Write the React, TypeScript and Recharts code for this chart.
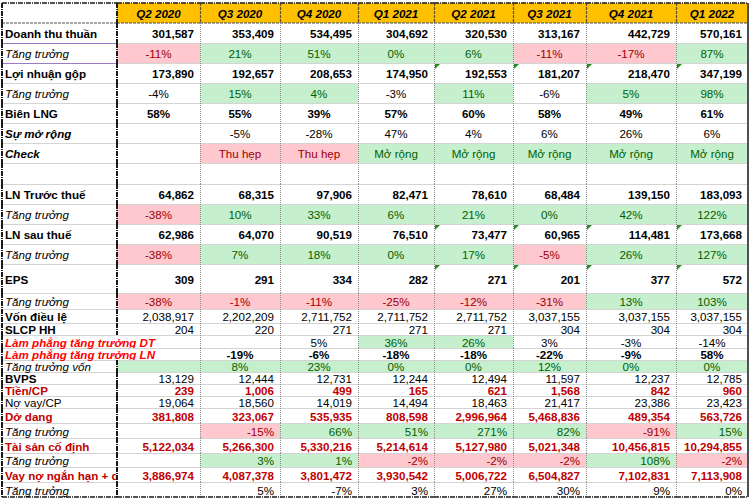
import React from 'react';
import { ScatterChart, Scatter, XAxis, YAxis } from 'recharts';

// ---------- data ----------
const quarters = ['Q2 2020', 'Q3 2020', 'Q4 2020', 'Q1 2021', 'Q2 2021', 'Q3 2021', 'Q4 2021', 'Q1 2022'];

const revenue = [301587, 353409, 534495, 304692, 320530, 313167, 442729, 570161];
const revenueGrowth = [-11, 21, 51, 0, 6, -11, -17, 87];
const grossProfit = [173890, 192657, 208653, 174950, 192553, 181207, 218470, 347199];
const grossProfitGrowth = [-4, 15, 4, -3, 11, -6, 5, 98];
const grossMargin = [58, 55, 39, 57, 60, 58, 49, 61];
const marginExpansion = [null, -5, -28, 47, 4, 6, 26, 6];
const checkLabels = ['', 'Thu hẹp', 'Thu hẹp', 'Mở rộng', 'Mở rộng', 'Mở rộng', 'Mở rộng', 'Mở rộng'];
const emptyRow = [null, null, null, null, null, null, null, null];
const pretaxProfit = [64862, 68315, 97906, 82471, 78610, 68484, 139150, 183093];
const pretaxGrowth = [-38, 10, 33, 6, 21, 0, 42, 122];
const netProfit = [62986, 64070, 90519, 76510, 73477, 60965, 114481, 173668];
const netGrowth = [-38, 7, 18, 0, 17, -5, 26, 127];
const eps = [309, 291, 334, 282, 271, 201, 377, 572];
const epsGrowth = [-38, -1, -11, -25, -12, -31, 13, 103];
const charterCapital = [2038917, 2202209, 2711752, 2711752, 2711752, 3037155, 3037155, 3037155];
const sharesOutstanding = [204, 220, 271, 271, 271, 304, 304, 304];
const smoothedRevenueGrowth = [null, null, 5, 36, 26, 3, -3, -14];
const smoothedProfitGrowth = [null, -19, -6, -18, -18, -22, -9, 58];
const capitalGrowth = [null, 8, 23, 0, 0, 12, 0, 0];
const bvps = [13129, 12444, 12731, 12244, 12494, 11597, 12237, 12785];
const cashPerShare = [239, 1006, 499, 165, 621, 1568, 842, 960];
const debtPerShare = [19064, 18560, 14019, 14494, 18463, 21417, 23386, 23423];
const wip = [381808, 323067, 535935, 808598, 2996964, 5468836, 489354, 563726];
const wipGrowth = [null, -15, 66, 51, 271, 82, -91, 15];
const fixedAssets = [5122034, 5266300, 5330216, 5214614, 5127980, 5021348, 10456815, 10294855];
const fixedAssetsGrowth = [null, 3, 1, -2, -2, -2, 108, -2];
const debt = [3886974, 4087378, 3801472, 3930542, 5006722, 6504827, 7102831, 7113908];
const debtGrowth = [null, 5, -7, 3, 27, 30, 9, 0];

// conditional-format tones per row (g = green, p = pink, . = none)
const tonesRevenueGrowth = 'pggggppg';
const tonesGrossGrowth = '.gg.g.gg';
const tonesCheck = '.ppggggg';
const tonesPretaxGrowth = 'pggggggg';
const tonesNetGrowth = 'pggggpgg';
const tonesEpsGrowth = 'ppppppgg';
const tonesSmoothedRev = '...gg...';
const tonesCapitalGrowth = 'gggggggg';
const tonesWipGrowth = '.pggggpg';
const tonesFixedGrowth = '.ggpppgp';

// ---------- layout / styles ----------
const W = 752;
const H = 500;
const colEdges = [2, 117, 200, 280, 358, 434, 513, 586, 676, 748];
const rowEdges = [3, 23, 43, 63, 83, 103, 123, 143, 163, 184, 204, 224, 244, 264, 293, 309, 323, 335, 348, 360, 372, 384, 396, 408, 423, 438, 453, 467, 482, 497];
const FONT = '"Liberation Sans", Arial, Helvetica, sans-serif';
const FS = 11.6;

type St = { weight: number; italic: boolean; color: string };
const BOLD: St = { weight: 700, italic: false, color: '#000' };
const ITAL: St = { weight: 400, italic: true, color: '#000' };
const BI: St = { weight: 700, italic: true, color: '#000' };
const REG: St = { weight: 400, italic: false, color: '#000' };
const DRED: St = { weight: 700, italic: false, color: '#C00000' };
const RED_BI: St = { weight: 700, italic: true, color: '#FF0000' };

const TONE_FILL: Record<string, string> = { g: '#C6EFCE', p: '#FFC7CE' };
const TONE_TEXT: Record<string, string> = { g: '#006100', p: '#9C0006' };

type RowSpec = {
  label: string;
  values: (number | string | null)[];
  fmt: 'num' | 'pct' | 'text';
  tones?: string;
  ls: St;
  vs: St;
  align: 'left' | 'center' | 'right';
  flags?: boolean;
  overflow?: boolean;
  clipLabel?: boolean;
};

const rows: RowSpec[] = [
  { label: 'Doanh thu thuần', values: revenue, fmt: 'num', ls: BOLD, vs: BOLD, align: 'right' },
  { label: 'Tăng trưởng', values: revenueGrowth, fmt: 'pct', tones: tonesRevenueGrowth, ls: ITAL, vs: REG, align: 'center' },
  { label: 'Lợi nhuận gộp', values: grossProfit, fmt: 'num', ls: BOLD, vs: BOLD, align: 'right', flags: true },
  { label: 'Tăng trưởng', values: grossProfitGrowth, fmt: 'pct', tones: tonesGrossGrowth, ls: ITAL, vs: REG, align: 'center' },
  { label: 'Biên LNG', values: grossMargin, fmt: 'pct', ls: BOLD, vs: BOLD, align: 'center' },
  { label: 'Sự mở rộng', values: marginExpansion, fmt: 'pct', ls: BI, vs: REG, align: 'center' },
  { label: 'Check', values: checkLabels, fmt: 'text', tones: tonesCheck, ls: BI, vs: REG, align: 'center' },
  { label: '', values: emptyRow, fmt: 'text', ls: REG, vs: REG, align: 'center' },
  { label: 'LN Trước thuế', values: pretaxProfit, fmt: 'num', ls: BOLD, vs: BOLD, align: 'right' },
  { label: 'Tăng trưởng', values: pretaxGrowth, fmt: 'pct', tones: tonesPretaxGrowth, ls: ITAL, vs: REG, align: 'center' },
  { label: 'LN sau thuế', values: netProfit, fmt: 'num', ls: BOLD, vs: BOLD, align: 'right', flags: true },
  { label: 'Tăng trưởng', values: netGrowth, fmt: 'pct', tones: tonesNetGrowth, ls: ITAL, vs: REG, align: 'center' },
  { label: 'EPS', values: eps, fmt: 'num', ls: BOLD, vs: BOLD, align: 'right', flags: true },
  { label: 'Tăng trưởng', values: epsGrowth, fmt: 'pct', tones: tonesEpsGrowth, ls: ITAL, vs: REG, align: 'center' },
  { label: 'Vốn điều lệ', values: charterCapital, fmt: 'num', ls: BOLD, vs: REG, align: 'right' },
  { label: 'SLCP HH', values: sharesOutstanding, fmt: 'num', ls: BOLD, vs: REG, align: 'right' },
  { label: 'Làm phẳng tăng trưởng DT', values: smoothedRevenueGrowth, fmt: 'pct', tones: tonesSmoothedRev, ls: RED_BI, vs: REG, align: 'center', overflow: true },
  { label: 'Làm phẳng tăng trưởng LN', values: smoothedProfitGrowth, fmt: 'pct', ls: RED_BI, vs: BOLD, align: 'center', overflow: true },
  { label: 'Tăng trưởng vốn', values: capitalGrowth, fmt: 'pct', tones: tonesCapitalGrowth, ls: ITAL, vs: REG, align: 'center' },
  { label: 'BVPS', values: bvps, fmt: 'num', ls: BOLD, vs: REG, align: 'right' },
  { label: 'Tiền/CP', values: cashPerShare, fmt: 'num', ls: DRED, vs: DRED, align: 'right' },
  { label: 'Nợ vay/CP', values: debtPerShare, fmt: 'num', ls: REG, vs: REG, align: 'right' },
  { label: 'Dở dang', values: wip, fmt: 'num', ls: DRED, vs: DRED, align: 'right' },
  { label: 'Tăng trưởng', values: wipGrowth, fmt: 'pct', tones: tonesWipGrowth, ls: ITAL, vs: REG, align: 'right' },
  { label: 'Tài sản cố định', values: fixedAssets, fmt: 'num', ls: DRED, vs: DRED, align: 'right' },
  { label: 'Tăng trưởng', values: fixedAssetsGrowth, fmt: 'pct', tones: tonesFixedGrowth, ls: ITAL, vs: REG, align: 'right' },
  { label: 'Vay nợ ngắn hạn + d', values: debt, fmt: 'num', ls: DRED, vs: DRED, align: 'right', clipLabel: true },
  { label: 'Tăng trưởng', values: debtGrowth, fmt: 'pct', ls: ITAL, vs: REG, align: 'right' },
];

type Cell = {
  x: number; y: number; w: number; h: number;
  row: number; col: number;
  text: string; fill?: string; color: string; weight: number; italic: boolean;
  align: 'left' | 'center' | 'right';
  flag?: boolean; overflow?: boolean; clip?: boolean; last?: boolean;
};

function fmtValue(v: number | string | null, fmt: string): string {
  if (v === null || v === undefined || v === '') return '';
  if (fmt === 'num') return (v as number).toLocaleString('en-US');
  if (fmt === 'pct') return `${v}%`;
  return String(v);
}

function buildCells(): Cell[] {
  const cells: Cell[] = [];
  const nRows = rowEdges.length - 1;
  const lastRow = nRows - 1;
  for (let r = 0; r < nRows; r++) {
    const y0 = rowEdges[r];
    const y1 = rowEdges[r + 1];
    for (let c = 0; c < colEdges.length - 1; c++) {
      const x0 = colEdges[c];
      const x1 = colEdges[c + 1];
      const base = { x: (x0 + x1) / 2, y: (y0 + y1) / 2, w: x1 - x0, h: y1 - y0, row: r, col: c, last: r === lastRow };
      if (r === 0) {
        cells.push({ ...base, text: c === 0 ? '' : quarters[c - 1], fill: c === 0 ? undefined : '#FFC000', color: '#000', weight: 700, italic: true, align: 'center' });
        continue;
      }
      const spec = rows[r - 1];
      if (c === 0) {
        cells.push({ ...base, text: spec.label, color: spec.ls.color, weight: spec.ls.weight, italic: spec.ls.italic, align: 'left', overflow: spec.overflow, clip: spec.clipLabel });
      } else {
        const i = c - 1;
        const tone = spec.tones ? spec.tones[i] : '.';
        cells.push({
          ...base,
          text: fmtValue(spec.values[i], spec.fmt),
          fill: TONE_FILL[tone],
          color: TONE_TEXT[tone] || spec.vs.color,
          weight: spec.vs.weight,
          italic: spec.vs.italic,
          align: spec.align,
          flag: spec.flags && i >= 4,
          overflow: spec.overflow,
        });
      }
    }
  }
  return cells;
}

const cells = buildCells();
const fillCells = cells.filter((c) => !!c.fill);

function FillShape(props: any) {
  const c: Cell = props.payload || props;
  const x0 = props.cx - c.w / 2;
  const y0 = props.cy - c.h / 2;
  return <rect x={x0} y={y0} width={c.w} height={c.h} fill={c.fill} />;
}

function GridShape(props: any) {
  const c: Cell = props.payload || props;
  const x0 = props.cx - c.w / 2;
  const x1 = props.cx + c.w / 2;
  const y0 = props.cy - c.h / 2;
  const y1 = props.cy + c.h / 2;
  const els: React.ReactNode[] = [];
  const heavy = { stroke: '#1a1a1a', strokeWidth: 2, strokeDasharray: '5 1 1 1' };
  if (c.row === 0) {
    els.push(<line key="b" x1={x0} x2={x1} y1={y1} y2={y1} stroke="#4a4a4a" strokeWidth={1.2} strokeDasharray="3 1" />);
    els.push(<line key="t" x1={x0} x2={x1} y1={y0} y2={y0} {...heavy} strokeWidth={1.5} />);
  } else if (c.last) {
    els.push(<line key="b" x1={x0} x2={x1} y1={y1} y2={y1} {...heavy} strokeWidth={1.5} />);
  } else {
    const purple = c.col === 0 && (c.row === 1 || c.row === 2);
    els.push(<line key="b" x1={x0} x2={x1} y1={y1 + 0.5} y2={y1 + 0.5} stroke={purple ? '#9b7cc0' : '#d4d4d4'} strokeWidth={1} />);
  }
  if (c.col === 0) {
    els.push(<line key="l" x1={x0} x2={x0} y1={y0} y2={y1} {...heavy} />);
    if (!c.overflow) els.push(<line key="r" x1={x1} x2={x1} y1={y0} y2={y1} {...heavy} />);
  } else if (c.col === colEdges.length - 2) {
    els.push(<line key="r" x1={x1} x2={x1} y1={y0} y2={y1} stroke="#505050" strokeWidth={2} />);
  } else if (c.row === 0) {
    els.push(<line key="r" x1={x1 + 0.5} x2={x1 + 0.5} y1={y0} y2={y1} stroke="#5a5030" strokeWidth={1.2} strokeDasharray="3 1" />);
  } else {
    els.push(<line key="r" x1={x1 + 0.5} x2={x1 + 0.5} y1={y0} y2={y1} stroke="#8f8f8f" strokeWidth={1} strokeDasharray="1 1" />);
  }
  if (c.flag) {
    els.push(<polygon key="f" points={`${x0 + 1},${y0 + 1} ${x0 + 6},${y0 + 1} ${x0 + 1},${y0 + 6}`} fill="#1f8f1f" />);
  }
  if (c.text) {
    const anchor = c.align === 'left' ? 'start' : c.align === 'center' ? 'middle' : 'end';
    const tx = c.align === 'left' ? x0 + 3 : c.align === 'center' ? (x0 + x1) / 2 : x1 - 6;
    const textProps = {
      textAnchor: anchor as any,
      dominantBaseline: 'central' as any,
      fontFamily: FONT,
      fontSize: FS,
      fontWeight: c.weight,
      fontStyle: c.italic ? 'italic' : 'normal',
      fill: c.color,
    };
    if (c.clip) {
      els.push(
        <svg key="clip" x={0} y={y0} width={x1 - 1} height={c.h} overflow="hidden">
          <text x={tx} y={c.h / 2 + 0.5} {...textProps}>{c.text}</text>
        </svg>
      );
    } else {
      els.push(<text key="txt" x={tx} y={(y0 + y1) / 2 + 0.5} {...textProps}>{c.text}</text>);
    }
  }
  return <g>{els}</g>;
}

export default function App() {
  return (
    <div style={{ position: 'absolute', left: 0, top: 0, width: W, height: H, background: '#fff' }}>
      <ScatterChart width={W} height={H} margin={{ top: 0, right: 0, bottom: 0, left: 0 }}>
        <XAxis type="number" dataKey="x" domain={[0, W]} allowDataOverflow hide />
        <YAxis type="number" dataKey="y" domain={[0, H]} allowDataOverflow reversed hide />
        <Scatter data={fillCells} shape={FillShape} isAnimationActive={false} />
        <Scatter data={cells} shape={GridShape} isAnimationActive={false} />
      </ScatterChart>
    </div>
  );
}
